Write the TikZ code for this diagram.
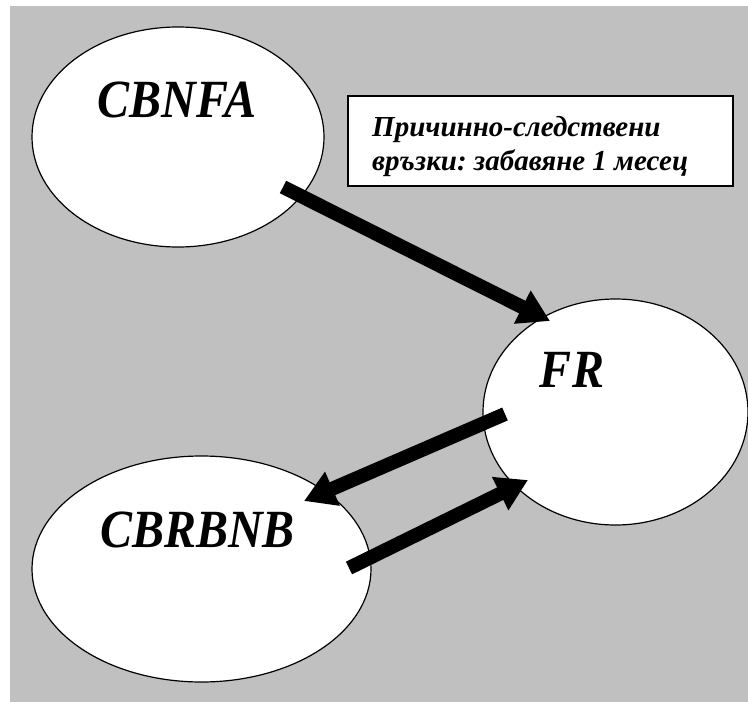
\documentclass[tikz,border=0pt]{standalone}
\usepackage{fontspec}
\setmainfont{Liberation Serif}
\usetikzlibrary{shapes,arrows.meta,positioning,calc}
\definecolor{bggray}{RGB}{192,192,192}

\begin{document}
\frenchspacing
\begin{tikzpicture}[x=1pt,y=-1pt,
  blob/.style={ellipse, draw, line width=1.2pt, fill=white, inner sep=0pt},
  lbl/.style={font=\fontsize{48}{52}\selectfont\bfseries\itshape, anchor=base, inner sep=0pt},
  notetext/.style={font=\fontsize{29}{34}\selectfont\bfseries\itshape, anchor=base west, inner sep=0pt},
  causal/.style={line width=14pt, -{Triangle[length=31pt,width=35pt]}}]
\useasboundingbox (0,0) rectangle (748,702);
\fill[bggray] (10,6) rectangle (748,702);
% the three ellipses
\node[blob, minimum width=292pt, minimum height=220pt] (cbnfa) at (178,137) {};
\node[blob, minimum width=265pt, minimum height=226pt] (fr) at (615.5,412) {};
\node[blob, minimum width=339pt, minimum height=226pt] (cbrbnb) at (201.5,569) {};
\node[lbl] (cbnfaT) at (177,117) {\scalebox{1}[1.12]{CBNFA}};
\node[lbl] (frT) at (572,387) {\scalebox{1}[1.12]{FR}};
\node[lbl] (cbrbnbT) at (197.5,547) {\scalebox{1}[1.12]{CBRBNB}};
% legend
\node[draw, line width=1.2pt, fill=white, minimum width=385pt, minimum height=90pt] (note) at (540.5,141) {};
\node[notetext] (noteA) at (372,136) {Причинно-следствени};
\node[notetext] (noteB) at (372,170) {връзки: забавяне 1 месец};
% arrows
\coordinate (s1) at (283,187);
\coordinate (e1) at (550,321);
\coordinate (s2) at (505,414);
\coordinate (e2) at (304,501);
\coordinate (s3) at (349,568);
\coordinate (e3) at (528,480);
\draw[causal] (s1) -- (e1);
\draw[causal] (s2) -- (e2);
\draw[causal] (s3) -- (e3);
\end{tikzpicture}
\end{document}
